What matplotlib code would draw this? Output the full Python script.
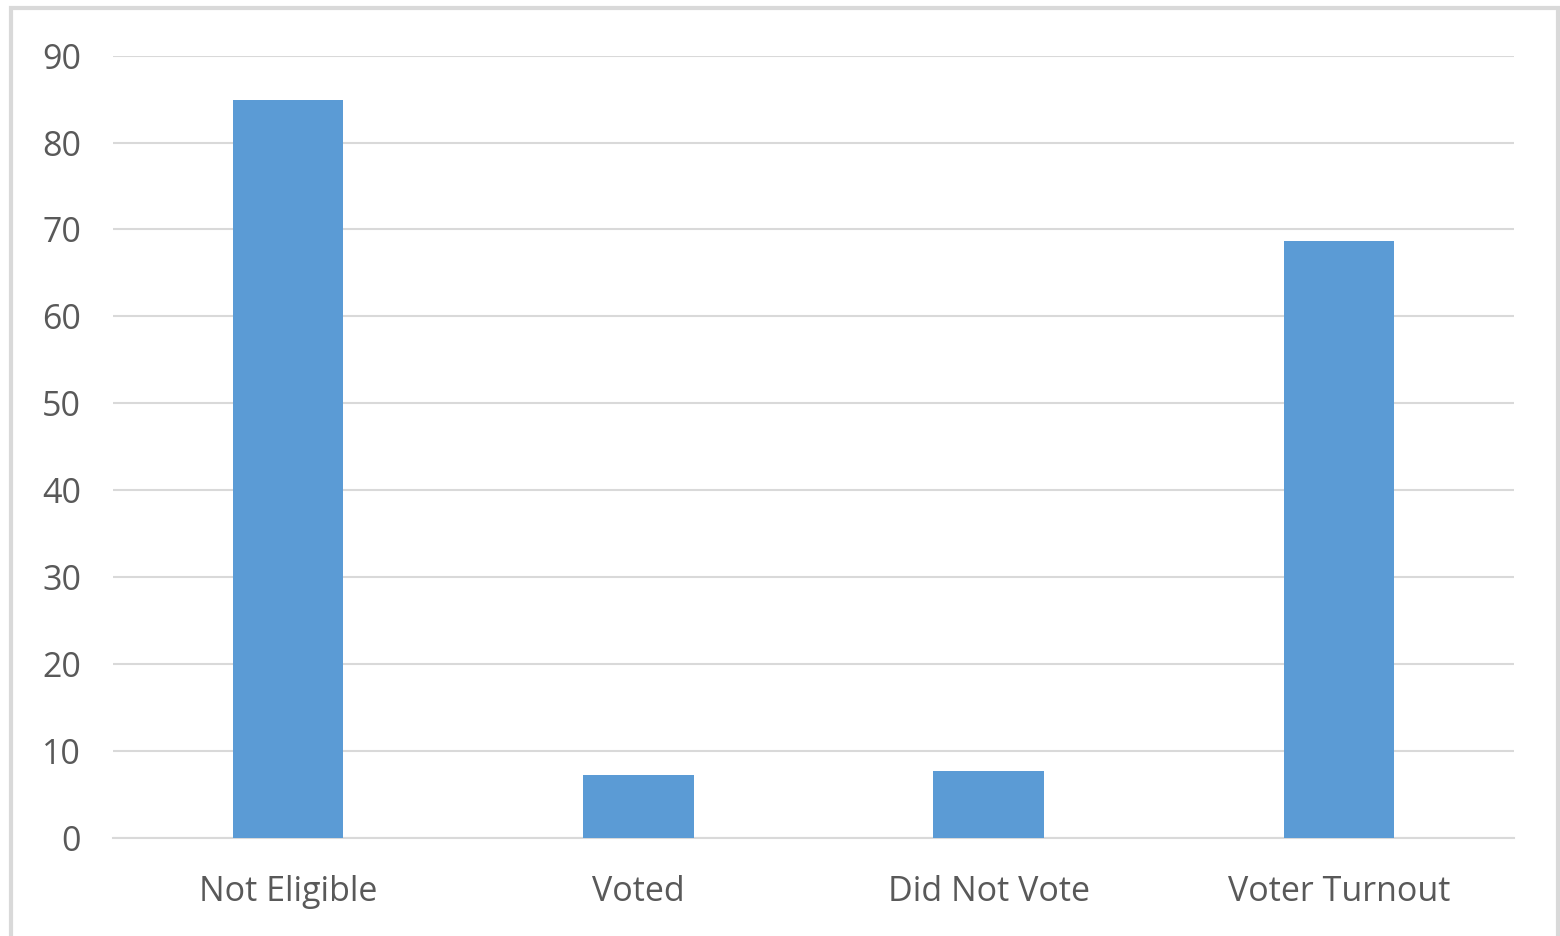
import matplotlib
matplotlib.use("Agg")
import matplotlib.pyplot as plt
from matplotlib.patches import Rectangle

categories = ["Not Eligible", "Voted", "Did Not Vote", "Voter Turnout"]
values = [84.9, 7.2, 7.7, 68.7]
yticks = [0, 10, 20, 30, 40, 50, 60, 70, 80, 90]

bar_color = "#5B9BD5"
text_color = "#595959"
grid_color = "#D9D9D9"

plt.rcParams["font.family"] = ["Open Sans", "DejaVu Sans"]

fig = plt.figure(figsize=(15.6, 9.36), dpi=100)
ax = fig.add_axes([113 / 1560, 1 - 837.7 / 936, (1514 - 113) / 1560, (837.7 - 55.7) / 936])

x = range(len(categories))
ax.bar(x, values, width=0.315, color=bar_color, zorder=3)

ax.set_xlim(-0.5, len(categories) - 0.5)
ax.set_ylim(0, 90)
ax.set_yticks(yticks)
ax.set_xticks(list(x))
ax.set_xticklabels(categories)

ax.grid(axis="y", color=grid_color, linewidth=1.5, zorder=0)
for s in ["top", "left", "right"]:
    ax.spines[s].set_visible(False)
ax.spines["bottom"].set_color(grid_color)
ax.spines["bottom"].set_linewidth(1.5)

ax.tick_params(axis="both", length=0, colors=text_color, labelsize=24.5)
ax.tick_params(axis="y", pad=23)
ax.tick_params(axis="x", pad=27)

# outer chart frame
fig.patches.append(Rectangle((11 / 1560, -0.02), (1558 - 11) / 1560, 1 - 7.5 / 936 + 0.02,
                             transform=fig.transFigure, fill=False,
                             edgecolor=grid_color, linewidth=3))

fig.savefig("out.png", dpi=100, facecolor="white")
